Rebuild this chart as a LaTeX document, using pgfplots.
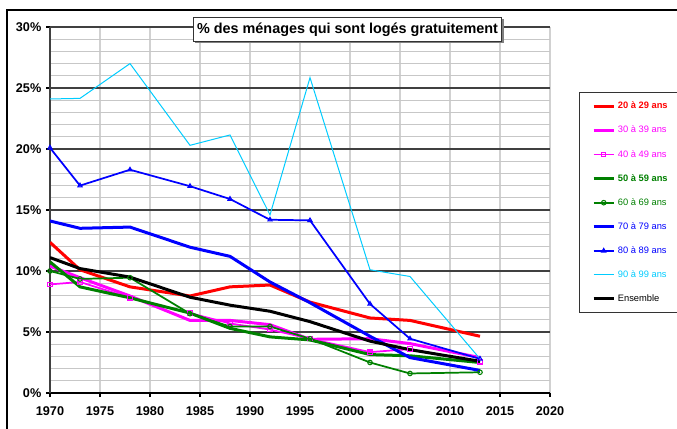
\documentclass[border=0pt]{standalone}
\usepackage{pgfplots}
\pgfplotsset{compat=1.18}
\usepackage{fontspec}
\setmainfont{Liberation Sans}
\usetikzlibrary{shadows}
\definecolor{cRed}{RGB}{255,0,0}
\definecolor{cMag}{RGB}{255,0,255}
\definecolor{cGreen}{RGB}{0,128,0}
\definecolor{cBlue}{RGB}{0,0,255}
\definecolor{cCyan}{RGB}{0,204,255}
\newcommand{\lt}[1]{\makebox[44pt][l]{#1}}
\begin{document}
\begin{tikzpicture}[x=1pt,y=1pt]
\path[use as bounding box] (0,0) rectangle (507.75,321);
\draw[black, line width=1.5pt] (5.25,-2) -- (5.25,313.5) -- (512,313.5);
\begin{axis}[
  at={(37.5pt,26.25pt)}, anchor=south west,
  scale only axis, width=375pt, height=274.5pt,
  xmin=1970, xmax=2020, ymin=0, ymax=30,
  xtick={1970,1975,...,2020}, ytick={0,5,...,30},
  yticklabels={0\%,5\%,10\%,15\%,20\%,25\%,30\%},
  minor y tick num=4,
  /pgf/number format/assume math mode=true,
  /pgf/number format/set thousands separator={},
  ticklabel style={font=\fontsize{9.5}{11}\selectfont\bfseries},
  xticklabel style={yshift=-3.5pt},
  axis x line*=bottom, axis y line*=left,
  axis line style={-},
  x axis line style={black, line width=1.2pt},
  y axis line style={black!75, line width=1.2pt},
  tick align=outside, major tick length=3pt, minor tick length=0pt,
  tick style={black, line width=0.8pt},
  xmajorgrids, ymajorgrids, yminorgrids,
  major x grid style={black!18, line width=1.1pt},
  major y grid style={black!75, line width=1pt},
  minor y grid style={black!22, line width=0.8pt},
  legend style={at={(1.058,0.822)}, anchor=north west, draw=black!80, line width=0.8pt,
    font=\fontsize{7}{8}\selectfont, inner xsep=9.5pt, inner ysep=5pt, row sep=7.4pt,
    cells={anchor=west}},
  legend cell align=left,
  legend image code/.code={\draw[mark repeat=2,mark phase=2,#1] plot coordinates {(0pt,0pt) (7.5pt,0pt) (15pt,0pt)};},
]
\addplot[cRed, line width=2.25pt, mark=none] coordinates {
 (1970,12.35) (1973,10.1) (1978,8.7) (1984,7.95) (1988,8.7) (1992,8.85) (1996,7.45) (2002,6.15) (2006,5.95) (2013,4.65)};
\addplot[cMag, line width=2.25pt, mark=none] coordinates {
 (1970,10.4) (1973,9.45) (1978,7.95) (1984,5.95) (1988,5.95) (1992,5.6) (1996,4.4) (2002,4.45) (2006,4.05) (2013,2.9)};
\addplot[cMag, line width=1.3pt, mark=square, mark size=1.6pt, mark options={solid, fill=white, line width=0.8pt}] coordinates {
 (1970,8.9) (1973,9.1) (1978,7.8) (1984,6.55) (1988,5.7) (1992,5.2) (1996,4.45) (2002,3.35) (2006,3.6) (2013,2.55)};
\addplot[cGreen, line width=2.25pt, mark=none] coordinates {
 (1970,10.75) (1973,8.7) (1978,7.8) (1984,6.55) (1988,5.3) (1992,4.6) (1996,4.35) (2002,3.15) (2006,3.05) (2013,2.5)};
\addplot[cGreen, line width=1.3pt, mark=o, mark size=1.7pt, mark options={solid, fill=white, line width=0.8pt}] coordinates {
 (1970,10.0) (1973,9.35) (1978,9.45) (1984,6.5) (1988,5.45) (1992,5.45) (1996,4.45) (2002,2.5) (2006,1.6) (2013,1.7)};
\addplot[cBlue, line width=2.25pt, mark=none] coordinates {
 (1970,14.1) (1973,13.5) (1978,13.6) (1984,11.95) (1988,11.2) (1992,9.1) (1996,7.4) (2002,4.65) (2006,2.9) (2013,1.85)};
\addplot[cBlue, line width=1.3pt, mark=triangle, mark size=1.8pt, mark options={solid, fill=white, line width=0.8pt}] coordinates {
 (1970,20.1) (1973,17.0) (1978,18.3) (1984,16.95) (1988,15.9) (1992,14.2) (1996,14.15) (2002,7.3) (2006,4.45) (2013,2.8)};
\addplot[cCyan, line width=0.75pt, mark=none] coordinates {
 (1970,24.1) (1973,24.15) (1978,27.0) (1984,20.3) (1988,21.15) (1992,14.6) (1996,25.85) (2002,10.1) (2006,9.55) (2013,2.8)};
\addplot[black, line width=2.25pt, mark=none] coordinates {
 (1970,11.1) (1973,10.2) (1978,9.5) (1984,7.85) (1988,7.2) (1992,6.7) (1996,5.85) (2002,4.25) (2006,3.55) (2013,2.6)};
\legend{\lt{\textcolor{cRed}{\bfseries 20 à 29 ans}},
  \lt{\textcolor{cMag}{30 à 39 ans}},
  \lt{\textcolor{cMag}{40 à 49 ans}},
  \lt{\textcolor{cGreen}{\bfseries 50 à 59 ans}},
  \lt{\textcolor{cGreen}{60 à 69 ans}},
  \lt{\textcolor{cBlue}{70 à 79 ans}},
  \lt{\textcolor{cBlue}{80 à 89 ans}},
  \lt{\textcolor{cCyan}{90 à 99 ans}},
  \lt{Ensemble}}
\end{axis}
\node[draw=black!80, line width=0.8pt, fill=white,
  drop shadow={shadow xshift=1.2pt, shadow yshift=-1.2pt, fill=black!50, opacity=1},
  inner xsep=3pt, inner ysep=4pt, font=\fontsize{10.8}{12}\selectfont\bfseries]
  at (260.6,298.9) {\% des ménages qui sont logés gratuitement};
\end{tikzpicture}
\end{document}
